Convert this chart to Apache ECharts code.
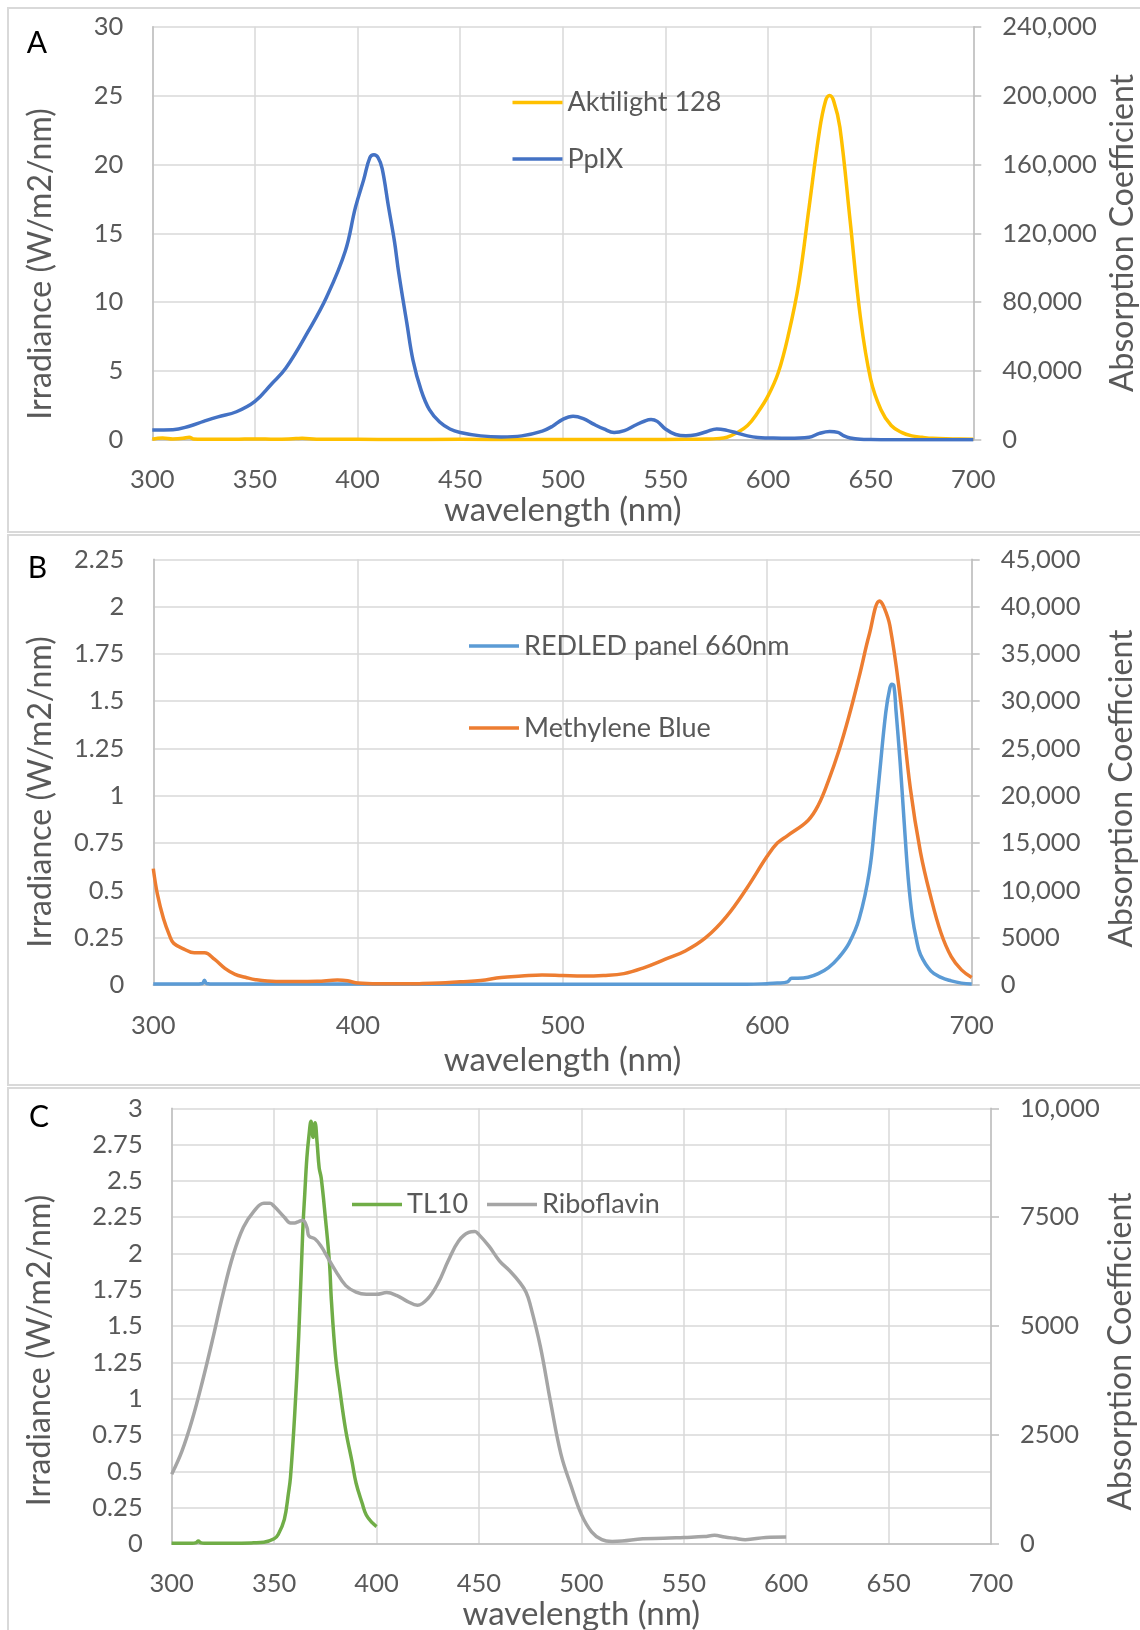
<!DOCTYPE html>
<html>
<head>
<meta charset="utf-8">
<script src="https://cdn.jsdelivr.net/npm/echarts@6/dist/echarts.min.js"></script>
<style>
html, body { margin: 0; padding: 0; background: #ffffff; overflow: hidden; width: 1140px; height: 1630px; }
#chart { position: absolute; left: 0; top: 0; width: 1140px; height: 1630px; z-index: 1; }
.panel { position: absolute; left: 7px; width: 1150px; border: 2px solid #d9d9d9; box-sizing: border-box; z-index: 0; }
</style>
</head>
<body>
<div class="panel" style="top:7px;height:526px"></div>
<div class="panel" style="top:534px;height:552px"></div>
<div class="panel" style="top:1087px;height:600px"></div>
<div id="chart"></div>
<script>
// ---------------- DATA ----------------
// Panel A : Aktilight 128 lamp irradiance (W/m2/nm) and PpIX absorption coefficient
const aktilightWl  = [300,305,310,315,318,320,325,330,340,350,360,370,373,380,400,420,450,480,500,520,540,560,570,575,580,585,590,595,600,605,610,615,620,625,628,630,632,635,640,645,650,655,660,665,670,675,680,690,700];
const aktilightIrr = [0.05,0.15,0.08,0.12,0.2,0.08,0.05,0.05,0.05,0.08,0.05,0.1,0.12,0.05,0.05,0.04,0.05,0.04,0.04,0.03,0.04,0.05,0.07,0.1,0.2,0.55,1.05,2.0,3.2,4.9,7.7,11.4,16.9,22.4,24.6,25.0,24.6,22.7,15.9,8.9,4.4,2.2,1.05,0.55,0.3,0.2,0.12,0.08,0.05];
const ppixWl  = [300,310,318,325,332,341,350,358,365,376,385,394,399,403,406,408,410,412,415,418,420,424,427,431,435,440,445,450,460,470,480,490,495,500,505,510,515,520,525,530,535,540,543,546,550,555,560,565,570,575,580,585,590,595,600,610,620,625,630,634,637,640,645,650,660,680,700];
const ppixAbs = [5840,6000,8000,10800,13440,16400,22400,32400,41600,63200,83200,109600,135200,151200,164000,165600,164000,157600,136000,115200,97600,68000,46400,28800,17600,10400,6400,4400,2400,1760,2400,5200,8000,12000,13760,12400,9200,6400,4400,5440,8400,11040,11840,10800,6400,3200,2400,3040,4800,6400,5600,4000,2400,1440,1200,960,1600,3840,4960,4400,2400,1200,400,240,160,160,160];

// Panel B : REDLED panel 660nm irradiance and Methylene Blue absorption coefficient
const redledWl  = [300,320,324,325,326,330,400,500,550,590,600,605,610,612,615,620,625,630,635,640,645,650,653,655,658,660,661,662,663,665,667,669,671,673,675,680,685,690,695,700];
const redledIrr = [0.005,0.005,0.008,0.025,0.008,0.005,0.005,0.004,0.004,0.004,0.007,0.01,0.017,0.036,0.036,0.041,0.06,0.092,0.145,0.22,0.35,0.6,0.9,1.12,1.44,1.57,1.59,1.58,1.45,1.18,0.86,0.56,0.36,0.24,0.16,0.075,0.04,0.022,0.01,0.005];
const mbWl  = [300,302,305,308,310,315,320,325,330,335,340,345,350,360,370,380,390,395,400,410,420,430,440,450,460,470,480,490,500,510,520,530,540,550,560,570,580,590,600,605,610,620,625,630,635,640,645,650,655,657,660,665,670,675,680,685,690,695,700];
const mbAbs = [12300,9600,7000,5200,4400,3800,3400,3400,2700,1760,1120,820,560,380,380,400,520,440,200,120,120,140,200,340,480,800,940,1060,1000,940,1000,1200,1840,2700,3600,5000,7200,10200,13600,15000,15800,17400,19000,21600,24700,28400,32600,37100,40600,40000,38000,30500,20800,14000,9300,5500,3000,1600,800];

// Panel C : TL10 lamp irradiance and Riboflavin absorption coefficient
const tl10Wl  = [300,310,312,313,314,316,330,340,345,350,352,355,357,358,360,362,364,365,366,367,368,369,370,371,372,373,375,377,378,380,382,385,388,390,393,395,398,400];
const tl10Irr = [0.005,0.005,0.01,0.02,0.01,0.005,0.005,0.008,0.012,0.036,0.065,0.17,0.35,0.46,0.88,1.43,2.16,2.42,2.66,2.81,2.91,2.8,2.9,2.76,2.59,2.52,2.25,1.94,1.67,1.29,1.07,0.78,0.57,0.42,0.28,0.2,0.145,0.12];
const riboWl  = [300,305,310,315,320,325,330,335,340,345,348,350,355,358,360,362,364,366,367,370,373,375,380,385,390,395,400,405,410,415,420,425,430,435,440,445,448,450,455,460,465,470,473,475,480,485,490,495,500,505,510,515,520,530,540,550,560,565,570,575,580,590,600];
const riboAbs = [1600,2130,2850,3730,4700,5730,6630,7270,7630,7820,7820,7750,7500,7370,7370,7400,7430,7270,7070,7000,6830,6670,6270,5930,5780,5730,5730,5770,5700,5570,5480,5630,5980,6500,6950,7150,7170,7100,6830,6500,6270,6000,5780,5500,4530,3250,2070,1330,680,280,100,60,70,120,130,150,170,200,160,130,100,150,160];

// Axis scales (min, max, step) per panel
const wlTicks   = [[300, 700, 50], [300, 700, 100], [300, 700, 50]];
const irrTicks  = [[0, 30, 5], [0, 2.25, 0.25], [0, 3, 0.25]];
const absTicks  = [[0, 240000, 40000], [0, 45000, 5000], [0, 10000, 2500]];
const panelLetters = ['A', 'B', 'C'];
const seriesNames = [['Aktilight 128', 'PpIX'], ['REDLED panel 660nm', 'Methylene Blue'], ['TL10', 'Riboflavin']];

// ---------------- STYLE ----------------
const FONT = 'Lato';
const TEXT = '#595959';
const GRID_LINE = '#d9d9d9';
const AXIS_LINE = '#bfbfbf';
const colors = [['#FFC000', '#4472C4'], ['#5B9BD5', '#ED7D31'], ['#70AD47', '#A5A5A5']];

const grids = [
  { left: 152.3, top: 26.7, width: 821, height: 413.3 },
  { left: 153.3, top: 559.3, width: 818.4, height: 425.7 },
  { left: 171.7, top: 1108.3, width: 819.3, height: 435.7 }
];
const xLabelMargin = [27, 28, 27];
const xNameGap = [53, 59, 45];
const legendPos = [
  [{ left: 512.5, top: 87.5 }, { left: 512.5, top: 144 }],
  [{ left: 469, top: 631 }, { left: 469, top: 713 }],
  [{ left: 352, top: 1189.5 }, { left: 487, top: 1189.5 }]
];
const letterPos = [[37, 43], [37.5, 568.5], [39, 1117.5]];
const leftTitlePos = [[41, 264], [40.5, 792], [40, 1350.5]];
const rightTitlePos = [[1123, 233], [1122, 788.5], [1121, 1351.5]];

function zip(xs, ys) {
  if (xs.length !== ys.length) console.error('length mismatch', xs.length, ys.length);
  return xs.map((x, i) => [x, ys[i]]);
}
function rightFmt(v) { return v >= 10000 ? v.toLocaleString('en-US') : String(v); }

const labelStyle = { color: TEXT, fontFamily: FONT, fontSize: 25.5 };
const seriesData = [
  [zip(aktilightWl, aktilightIrr), zip(ppixWl, ppixAbs)],
  [zip(redledWl, redledIrr), zip(mbWl, mbAbs)],
  [zip(tl10Wl, tl10Irr), zip(riboWl, riboAbs)]
];

const xAxes = [], yAxes = [], series = [], legends = [], graphics = [];
for (let i = 0; i < 3; i++) {
  xAxes.push({
    type: 'value', gridIndex: i, min: wlTicks[i][0], max: wlTicks[i][1], interval: wlTicks[i][2],
    axisLine: { show: true, onZero: false, lineStyle: { color: AXIS_LINE, width: 1.5 } },
    axisTick: { show: false },
    axisLabel: Object.assign({}, labelStyle, { margin: xLabelMargin[i] }),
    splitLine: { show: true, lineStyle: { color: GRID_LINE, width: 1.5 } },
    name: 'wavelength (nm)', nameLocation: 'middle', nameGap: xNameGap[i],
    nameTextStyle: { color: TEXT, fontFamily: FONT, fontSize: 33 }
  });
  yAxes.push({
    type: 'value', gridIndex: i, position: 'left', min: irrTicks[i][0], max: irrTicks[i][1], interval: irrTicks[i][2],
    axisLine: { show: true, onZero: false, lineStyle: { color: AXIS_LINE, width: 1.5 } },
    axisTick: { show: false },
    axisLabel: Object.assign({}, labelStyle, { margin: 29 }),
    splitLine: { show: true, lineStyle: { color: GRID_LINE, width: 1.5 } }
  });
  yAxes.push({
    type: 'value', gridIndex: i, position: 'right', min: absTicks[i][0], max: absTicks[i][1], interval: absTicks[i][2],
    axisLine: { show: true, onZero: false, lineStyle: { color: AXIS_LINE, width: 1.5 } },
    axisTick: { show: true, inside: false, length: 8, lineStyle: { color: AXIS_LINE, width: 1.5 } },
    axisLabel: Object.assign({}, labelStyle, { margin: 29, formatter: rightFmt }),
    splitLine: { show: false }
  });
  for (let s = 0; s < 2; s++) {
    series.push({
      type: 'line', name: seriesNames[i][s], xAxisIndex: i, yAxisIndex: i * 2 + s,
      data: seriesData[i][s], symbol: 'none', showSymbol: false, smooth: 0.4,
      lineStyle: { width: 3.5, color: colors[i][s], join: 'round' }, itemStyle: { color: colors[i][s] },
      emphasis: { disabled: true }, silent: true
    });
    legends.push({
      data: [seriesNames[i][s]], left: legendPos[i][s].left, top: legendPos[i][s].top,
      orient: 'horizontal', padding: 0, itemWidth: 50, itemHeight: 3.5, icon: 'rect', selectedMode: false,
      textStyle: { color: TEXT, fontFamily: FONT, fontSize: 27, lineHeight: 30 }
    });
  }
  graphics.push({ type: 'text', x: letterPos[i][0], y: letterPos[i][1],
    style: { text: panelLetters[i], fontFamily: FONT, fontSize: 30, fill: '#000', align: 'center', verticalAlign: 'middle' } });
  graphics.push({ type: 'text', x: leftTitlePos[i][0], y: leftTitlePos[i][1], rotation: Math.PI / 2,
    style: { text: 'Irradiance (W/m2/nm)', fontFamily: FONT, fontSize: 32, fill: TEXT, align: 'center', verticalAlign: 'middle' } });
  graphics.push({ type: 'text', x: rightTitlePos[i][0], y: rightTitlePos[i][1], rotation: Math.PI / 2,
    style: { text: 'Absorption Coefficient', fontFamily: FONT, fontSize: 32, fill: TEXT, align: 'center', verticalAlign: 'middle' } });
}

const chart = echarts.init(document.getElementById('chart'), null, { renderer: 'canvas' });
chart.setOption({
  backgroundColor: 'transparent',
  animation: false,
  grid: grids.map(g => Object.assign({ outerBoundsMode: 'none', containLabel: false }, g)),
  xAxis: xAxes,
  yAxis: yAxes,
  legend: legends,
  series: series,
  graphic: graphics
});
</script>
</body>
</html>
